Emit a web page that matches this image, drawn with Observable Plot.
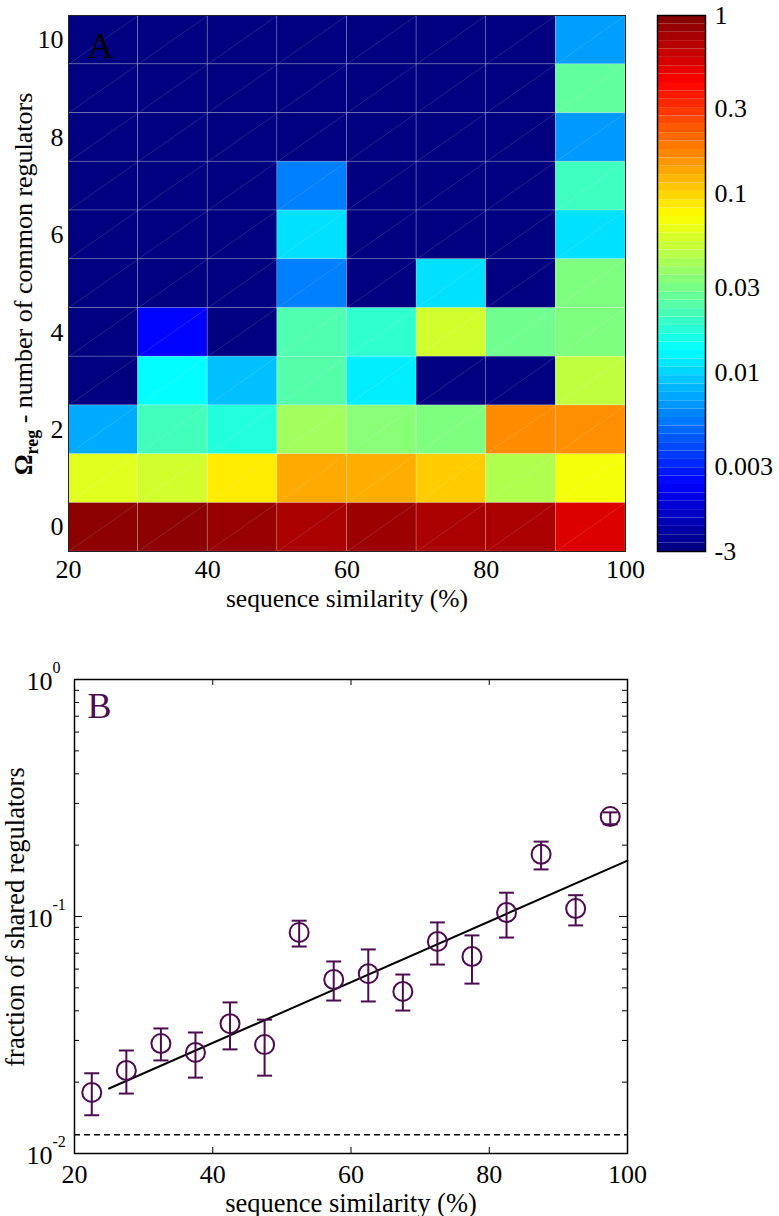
<!DOCTYPE html>
<html><head><meta charset="utf-8">
<script src="https://cdn.jsdelivr.net/npm/d3@7"></script>
<script src="https://cdn.jsdelivr.net/npm/@observablehq/plot@0.6"></script>
<style>
body{margin:0;background:#fff;}
#wrap{position:relative;width:779px;height:1216px;font-family:"Liberation Serif",serif;}
#wrap svg{position:absolute;overflow:visible;font-family:"Liberation Serif",serif !important;}
#wrap svg text, #wrap svg tspan, #wrap svg g{font-family:"Liberation Serif",serif !important;}
</style></head><body><div id="wrap"></div>
<script>
// ---------- Panel A data ----------
const similarityBins = [25, 35, 45, 55, 65, 75, 85, 95];
const binWidth = 10;
const regulatorCounts = [0, 1, 2, 3, 4, 5, 6, 7, 8, 9, 10];
const omega0  = [0.92, 0.92, 0.85, 0.75, 0.82, 0.75, 0.75, 0.53];
const omega1  = [0.061, 0.055, 0.085, 0.133, 0.13, 0.106, 0.044, 0.07];
const omega2  = [0.0075, 0.021, 0.0168, 0.040, 0.0335, 0.0316, 0.163, 0.16];
const omega3  = [0, 0.0135, 0.0087, 0.0237, 0.0119, 0, 0, 0.049];
const omega4  = [0, 0.0024, 0, 0.023, 0.0185, 0.055, 0.0285, 0.0316];
const omega5  = [0, 0, 0, 0.0056, 0, 0.0108, 0, 0.0316];
const omega6  = [0, 0, 0, 0.0108, 0, 0, 0, 0.0108];
const omega7  = [0, 0, 0, 0.0056, 0, 0, 0, 0.0205];
const omega8  = [0, 0, 0, 0, 0, 0, 0, 0.0067];
const omega9  = [0, 0, 0, 0, 0, 0, 0, 0.0257];
const omega10 = [0, 0, 0, 0, 0, 0, 0, 0.0069];
const heatRows = [omega0, omega1, omega2, omega3, omega4, omega5, omega6, omega7, omega8, omega9, omega10];
const xTicksA = [20, 40, 60, 80, 100];
const yTicksA = [0, 2, 4, 6, 8, 10];
const colorbarTicks = [1, 0.3, 0.1, 0.03, 0.01, 0.003, 0.001];
const colorbarLabels = ["1", "0.3", "0.1", "0.03", "0.01", "0.003", "-3"];

// ---------- Panel B data ----------
const binCenters = [22.5, 27.5, 32.5, 37.5, 42.5, 47.5, 52.5, 57.5, 62.5, 67.5, 72.5, 77.5, 82.5, 87.5, 92.5, 97.5];
const sharedFraction = [0.0181, 0.0224, 0.0291, 0.0267, 0.0353, 0.0288, 0.0857, 0.0542, 0.0574, 0.0483, 0.0785, 0.0678, 0.104, 0.183, 0.108, 0.264];
const errLow  = [0.0145, 0.0179, 0.0247, 0.0209, 0.0275, 0.0213, 0.0747, 0.0442, 0.0438, 0.0401, 0.0627, 0.0521, 0.0815, 0.158, 0.0917, 0.245];
const errHigh = [0.0218, 0.0272, 0.0337, 0.0324, 0.0434, 0.0367, 0.096, 0.0646, 0.0726, 0.0569, 0.0944, 0.0832, 0.126, 0.207, 0.123, 0.275];
const fitX = [25, 100];
const fitY = [0.0188, 0.172];
const randomLevel = 0.012;
const xTicksB = [20, 40, 60, 80, 100];
const xInnerTicksB = [40, 60, 80];
const yMajorB = [0.01, 0.1, 1];
const yMajorExp = ["-2", "-1", "0"];
const yMinorB = [0.02,0.03,0.04,0.05,0.06,0.07,0.08,0.09,0.2,0.3,0.4,0.5,0.6,0.7,0.8,0.9];

// ---------- helpers ----------
function jet(t) {
  const c = v => Math.max(0, Math.min(1, v));
  const r = c(1.5 - Math.abs(4 * t - 3)), g = c(1.5 - Math.abs(4 * t - 2)), b = c(1.5 - Math.abs(4 * t - 1));
  return `rgb(${Math.round(r * 255)},${Math.round(g * 255)},${Math.round(b * 255)})`;
}
const colorScale = {type: "log", domain: [0.001, 1], interpolate: jet, clamp: true};
const serif = "Liberation Serif";
const wrap = document.getElementById("wrap");
function place(svg, left, top) { svg.style.left = left + "px"; svg.style.top = top + "px"; wrap.appendChild(svg); }
const baseStyle = {fontFamily: serif, fontSize: "26px", background: "transparent", color: "black"};

// ---------- Panel A ----------
const cells = regulatorCounts.flatMap((r, j) => similarityBins.map((s, i) => ({s, r, v: heatRows[j][i]})));
const A = Plot.plot({
  width: 640, height: 620, marginLeft: 68, marginRight: 15, marginTop: 15, marginBottom: 69,
  x: {domain: [20, 100]}, y: {domain: [-0.5, 10.5]},
  color: colorScale,
  style: baseStyle,
  marks: [
    Plot.rect(cells, {x1: d => d.s - binWidth / 2, x2: d => d.s + binWidth / 2, y1: d => d.r - 0.5, y2: d => d.r + 0.5,
      fill: d => Math.max(d.v, 1e-3), stroke: "white", strokeOpacity: 0.22, strokeWidth: 0.8}),
    Plot.link(cells, {x1: d => d.s - binWidth / 2, y1: d => d.r - 0.5, x2: d => d.s + binWidth / 2, y2: d => d.r + 0.5,
      stroke: "white", strokeOpacity: 0.22, strokeWidth: 0.6}),
    Plot.frame({stroke: "#222", strokeWidth: 1}),
    Plot.axisX({ticks: xTicksA, tickSize: 0, tickPadding: 8, fontSize: 26, label: null}),
    Plot.axisY({ticks: yTicksA, tickSize: 0, tickPadding: 5, fontSize: 26, label: null}),
    Plot.text(["A"], {frameAnchor: "top-left", textAnchor: "start", lineAnchor: "middle", dx: 19, dy: 31, fontSize: 36, fill: "black"}),
    Plot.text(["sequence similarity (%)"], {frameAnchor: "bottom", lineAnchor: "middle", dy: 47, fontSize: 25.5, fill: "black"})
  ]
});
place(A, 0, 0);
{
  const t = d3.select(A).append("text")
    .attr("transform", "translate(32,284) rotate(-90)")
    .attr("text-anchor", "middle").attr("font-size", 26).attr("fill", "black");
  t.append("tspan").attr("font-weight", "bold").text("Ω");
  t.append("tspan").attr("font-weight", "bold").attr("font-size", 18).attr("dy", 6).text("reg");
  t.append("tspan").attr("dy", -6).text(" - number of common regulators");
}

// ---------- Colorbar ----------
const nBands = 64;
const bands = d3.range(nBands).map(i => ({
  lo: Math.pow(10, -3 + 3 * i / nBands), hi: Math.pow(10, -3 + 3 * (i + 1) / nBands), mid: Math.pow(10, -3 + 3 * (i + 0.5) / nBands)
}));
const cbLabelMap = new Map(colorbarTicks.map((d, i) => [d, colorbarLabels[i]]));
const CB = Plot.plot({
  width: 139, height: 620, marginLeft: 17, marginRight: 74, marginTop: 15, marginBottom: 69,
  x: {domain: [0, 1], axis: null}, y: {type: "log", domain: [0.001, 1]},
  color: colorScale,
  style: baseStyle,
  marks: [
    Plot.rect(bands, {x1: 0, x2: 1, y1: "lo", y2: "hi", fill: "mid"}),
    Plot.frame({stroke: "black", strokeWidth: 1.5}),
    Plot.axisY({anchor: "right", ticks: colorbarTicks, tickFormat: d => cbLabelMap.get(d), tickSize: 0, tickPadding: 9, fontSize: 26, label: null})
  ]
});
place(CB, 640, 0);

// ---------- Panel B ----------
const purple = "#4a0c4e";
const pts = binCenters.map((x, i) => ({x, v: sharedFraction[i], lo: errLow[i], hi: errHigh[i]}));
const fit = fitX.map((x, i) => ({x, y: fitY[i]}));
const capSymbol = {draw(ctx, size) { const w = Math.sqrt(size / Math.PI); ctx.moveTo(-w, 0); ctx.lineTo(w, 0); }};
const bW = 779, bH = 576, bML = 74, bMR = 152, bMT = 39, bMB = 63;
const frameW = bW - bML - bMR, frameH = bH - bMT - bMB;
const B = Plot.plot({
  width: bW, height: bH, marginLeft: bML, marginRight: bMR, marginTop: bMT, marginBottom: bMB,
  x: {domain: [20, 100]}, y: {type: "log", domain: [0.01, 1], axis: null},
  style: baseStyle,
  marks: [
    Plot.ruleY([randomLevel], {stroke: "black", strokeWidth: 1.5, strokeDasharray: "6,4"}),
    Plot.line(fit, {x: "x", y: "y", stroke: "black", strokeWidth: 2}),
    Plot.ruleX(pts, {x: "x", y1: "lo", y2: "hi", stroke: purple, strokeWidth: 2}),
    Plot.dot(pts, {x: "x", y: "lo", symbol: capSymbol, r: 7.5, stroke: purple, strokeWidth: 2}),
    Plot.dot(pts, {x: "x", y: "hi", symbol: capSymbol, r: 7.5, stroke: purple, strokeWidth: 2}),
    Plot.dot(pts, {x: "x", y: "v", r: 9.5, stroke: purple, strokeWidth: 2, fill: "none"}),
    Plot.tickY(yMinorB, {y: d => d, insetRight: frameW - 5, stroke: "black"}),
    Plot.tickY(yMinorB, {y: d => d, insetLeft: frameW - 5, stroke: "black"}),
    Plot.tickY([0.1], {y: d => d, insetRight: frameW - 8, stroke: "black"}),
    Plot.tickY([0.1], {y: d => d, insetLeft: frameW - 8, stroke: "black"}),
    Plot.tickX(xInnerTicksB, {x: d => d, insetTop: frameH - 6, stroke: "black"}),
    Plot.tickX(xInnerTicksB, {x: d => d, insetBottom: frameH - 6, stroke: "black"}),
    Plot.frame({stroke: "black", strokeWidth: 1.5}),
    Plot.axisX({ticks: xTicksB, tickSize: 0, tickPadding: 11, fontSize: 26, label: null}),
    Plot.text(yMajorB, {y: d => d, frameAnchor: "left", text: () => "10", textAnchor: "end", lineAnchor: "middle", dx: -22, dy: 2, fontSize: 26, fill: "black"}),
    Plot.text(yMajorB, {y: d => d, frameAnchor: "left", text: (d, i) => yMajorExp[i], textAnchor: "start", lineAnchor: "middle", dx: -22, dy: -12, fontSize: 16, fill: "black"}),
    Plot.text(["B"], {frameAnchor: "top-left", textAnchor: "start", lineAnchor: "middle", dx: 13, dy: 27, fontSize: 36, fill: purple}),
    Plot.text(["sequence similarity (%)"], {frameAnchor: "bottom", lineAnchor: "middle", dy: 50, fontSize: 26.5, fill: "black"})
  ]
});
place(B, 0, 640);
d3.select(B).append("text")
  .attr("transform", "translate(24,277) rotate(-90)")
  .attr("text-anchor", "middle").attr("font-size", 26.5).attr("fill", "black")
  .text("fraction of shared regulators");
</script>
</body></html>
